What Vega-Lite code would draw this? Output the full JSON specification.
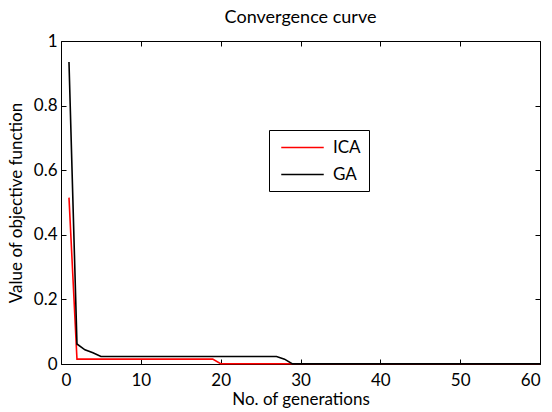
{
  "$schema": "https://vega.github.io/schema/vega-lite/v6.json",
  "width": 479,
  "height": 323,
  "autosize": "none",
  "padding": {"left": 61, "top": 41, "right": 12, "bottom": 48},
  "title": {"text": "Convergence curve", "font": "Lato", "fontSize": 18, "fontWeight": "normal", "color": "black", "baseline": "alphabetic", "offset": 18, "dy": 27, "anchor": "middle"},
  "config": {
    "view": {"stroke": null},
    "font": "Lato",
    "axis": {"grid": false, "domainColor": "black", "tickColor": "black", "labelColor": "black", "titleColor": "black", "labelFont": "Lato", "titleFont": "Lato", "labelFontSize": 17, "titleFontSize": 17, "titleFontWeight": "normal", "tickSize": -5, "domainWidth": 1, "tickWidth": 1}
  },
  "data": {"values": [
    {"gen": 1, "value": 0.515, "alg": "ICA"},
    {"gen": 2, "value": 0.015, "alg": "ICA"},
    {"gen": 19, "value": 0.015, "alg": "ICA"},
    {"gen": 20, "value": 0.001, "alg": "ICA"},
    {"gen": 60, "value": 0.001, "alg": "ICA"},
    {"gen": 1, "value": 0.935, "alg": "GA"},
    {"gen": 2, "value": 0.062, "alg": "GA"},
    {"gen": 3, "value": 0.044, "alg": "GA"},
    {"gen": 4, "value": 0.035, "alg": "GA"},
    {"gen": 5, "value": 0.023, "alg": "GA"},
    {"gen": 27, "value": 0.023, "alg": "GA"},
    {"gen": 28, "value": 0.015, "alg": "GA"},
    {"gen": 29, "value": 0.0005, "alg": "GA"},
    {"gen": 60, "value": 0.0005, "alg": "GA"}
  ]},
  "layer": [
    {
      "mark": {"type": "line", "strokeWidth": 1.6, "clip": false},
      "encoding": {
        "x": {"field": "gen", "type": "quantitative", "scale": {"domain": [0, 60], "nice": false}, "axis": {"orient": "bottom", "values": [0, 10, 20, 30, 40, 50, 60], "title": "No. of generations", "labelPadding": 13, "titlePadding": 3}},
        "y": {"field": "value", "type": "quantitative", "scale": {"domain": [0, 1], "nice": false}, "axis": {"orient": "left", "values": [0, 0.2, 0.4, 0.6, 0.8, 1], "format": "~g", "title": "Value of objective function", "labelPadding": 9, "titlePadding": 8}},
        "color": {"field": "alg", "type": "nominal", "scale": {"domain": ["ICA", "GA"], "range": ["#ff0000", "#000000"]},
          "legend": {"title": null, "orient": "none", "legendX": 208, "legendY": 89, "strokeColor": "black", "fillColor": "white", "padding": 8, "rowPadding": 9, "symbolType": "M-2.5,0L2.5,0", "symbolSize": 289, "symbolStrokeWidth": 1.6, "symbolOffset": 16, "labelOffset": 21, "labelFont": "Lato", "labelFontSize": 17, "labelColor": "black"}},
        "order": {"field": "gen", "type": "quantitative"}
      }
    },
    {
      "mark": {"type": "line", "opacity": 0},
      "encoding": {
        "x": {"field": "gen", "type": "quantitative", "axis": {"orient": "top", "values": [0, 10, 20, 30, 40, 50, 60], "labels": false, "title": null, "minExtent": 0, "maxExtent": 0}},
        "y": {"field": "value", "type": "quantitative", "axis": {"orient": "right", "values": [0, 0.2, 0.4, 0.6, 0.8, 1], "labels": false, "title": null, "minExtent": 0, "maxExtent": 0}},
        "detail": {"field": "alg"}
      }
    }
  ]
}
